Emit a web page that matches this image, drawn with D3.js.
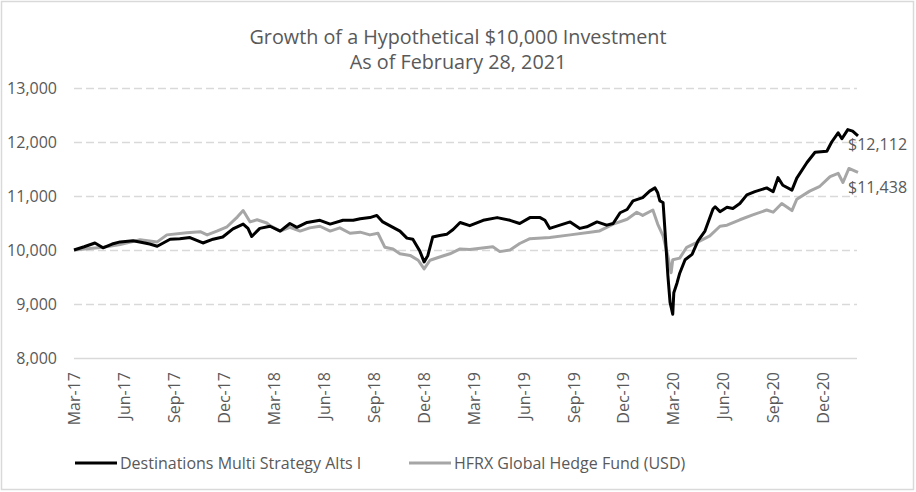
<!DOCTYPE html>
<html>
<head>
<meta charset="utf-8">
<script src="https://cdn.jsdelivr.net/npm/d3@7/dist/d3.min.js"></script>
<style>
  html, body { margin: 0; padding: 0; background: #fff; }
  svg { display: block; }
  text { font-family: "Open Sans", sans-serif; fill: #595959; }
</style>
</head>
<body>
<svg id="chart" width="916" height="492"></svg>
<script>
// ---------------- DATA ----------------
const titleLines = ["Growth of a Hypothetical $10,000 Investment", "As of February 28, 2021"];
const seriesNames = ["Destinations Multi Strategy Alts I", "HFRX Global Hedge Fund (USD)"];
const yTicks = [8000, 9000, 10000, 11000, 12000, 13000];
const tickDates = ["2017-03-01","2017-06-02","2017-09-03","2017-12-05","2018-03-08","2018-06-09",
  "2018-09-11","2018-12-12","2019-03-15","2019-06-16","2019-09-17","2019-12-19",
  "2020-03-21","2020-06-22","2020-09-23","2020-12-25"];
const tickLabels = ["Mar-17","Jun-17","Sep-17","Dec-17","Mar-18","Jun-18","Sep-18","Dec-18",
  "Mar-19","Jun-19","Sep-19","Dec-19","Mar-20","Jun-20","Sep-20","Dec-20"];
const endLabels = ["$12,112", "$11,438"];

const fundSeries = [
 ["2017-03-01",10000],["2017-03-20",10060],["2017-04-09",10130],["2017-04-24",10040],["2017-05-11",10110],
 ["2017-05-26",10150],["2017-06-19",10170],["2017-07-06",10140],["2017-07-20",10110],["2017-08-03",10070],
 ["2017-08-27",10200],["2017-09-14",10210],["2017-10-03",10230],["2017-10-27",10130],["2017-11-15",10200],
 ["2017-12-03",10240],["2017-12-22",10390],["2018-01-10",10480],["2018-01-19",10400],["2018-01-26",10250],
 ["2018-02-10",10400],["2018-03-01",10440],["2018-03-20",10350],["2018-04-07",10490],["2018-04-20",10420],
 ["2018-05-09",10510],["2018-06-02",10550],["2018-06-21",10480],["2018-07-15",10550],["2018-08-03",10550],
 ["2018-08-16",10580],["2018-09-03",10600],["2018-09-16",10640],["2018-09-27",10520],["2018-10-16",10420],
 ["2018-10-29",10350],["2018-11-11",10220],["2018-11-22",10200],["2018-12-05",9980],["2018-12-13",9780],
 ["2018-12-20",9900],["2018-12-29",10240],["2019-01-11",10270],["2019-01-24",10290],["2019-02-05",10380],
 ["2019-02-18",10510],["2019-03-08",10450],["2019-04-02",10550],["2019-04-28",10600],["2019-05-22",10550],
 ["2019-06-09",10490],["2019-06-28",10600],["2019-07-17",10600],["2019-07-26",10550],["2019-08-04",10400],
 ["2019-08-23",10460],["2019-09-11",10520],["2019-09-29",10400],["2019-10-12",10430],["2019-10-31",10520],
 ["2019-11-18",10460],["2019-11-30",10490],["2019-12-13",10690],["2019-12-26",10750],["2020-01-06",10910],
 ["2020-01-24",10970],["2020-02-06",11090],["2020-02-16",11150],["2020-02-21",11060],["2020-02-25",10910],
 ["2020-03-02",10880],["2020-03-05",10440],["2020-03-11",9520],["2020-03-15",9030],["2020-03-20",8810],
 ["2020-03-22",9210],["2020-03-28",9390],["2020-04-02",9570],["2020-04-12",9820],["2020-04-25",9920],
 ["2020-05-06",10170],["2020-05-19",10350],["2020-06-03",10760],["2020-06-07",10800],["2020-06-16",10710],
 ["2020-06-29",10790],["2020-07-10",10770],["2020-07-23",10860],["2020-08-05",11020],["2020-08-20",11080],
 ["2020-09-11",11150],["2020-09-23",11080],["2020-10-02",11340],["2020-10-11",11200],["2020-10-28",11110],
 ["2020-11-06",11330],["2020-11-25",11620],["2020-12-10",11810],["2021-01-01",11830],["2021-01-10",12000],
 ["2021-01-22",12170],["2021-01-29",12060],["2021-02-09",12230],["2021-02-18",12200],["2021-02-28",12112]
];

const indexSeries = [
 ["2017-03-01",10000],["2017-04-24",10050],["2017-05-26",10100],["2017-07-02",10190],["2017-08-03",10150],
 ["2017-08-21",10280],["2017-09-27",10320],["2017-10-22",10340],["2017-11-04",10280],["2017-11-22",10350],
 ["2017-12-11",10430],["2017-12-30",10610],["2018-01-10",10730],["2018-01-23",10520],["2018-02-05",10560],
 ["2018-02-23",10500],["2018-03-01",10450],["2018-03-20",10350],["2018-04-07",10420],["2018-04-26",10350],
 ["2018-05-14",10410],["2018-06-02",10440],["2018-06-21",10350],["2018-07-09",10410],["2018-07-28",10310],
 ["2018-08-16",10330],["2018-09-03",10280],["2018-09-18",10310],["2018-10-01",10050],["2018-10-16",10020],
 ["2018-10-29",9930],["2018-11-17",9900],["2018-12-02",9810],["2018-12-13",9650],["2018-12-24",9810],
 ["2019-01-11",9870],["2019-01-30",9930],["2019-02-18",10020],["2019-03-08",10010],["2019-04-20",10060],
 ["2019-05-03",9970],["2019-05-22",10000],["2019-06-09",10120],["2019-06-28",10210],["2019-08-04",10230],
 ["2019-09-11",10280],["2019-10-18",10330],["2019-11-04",10350],["2019-11-30",10480],["2019-12-26",10570],
 ["2020-01-13",10700],["2020-01-24",10640],["2020-02-12",10740],["2020-02-21",10480],["2020-03-02",10260],
 ["2020-03-11",9890],["2020-03-17",9580],["2020-03-20",9820],["2020-04-02",9850],["2020-04-15",10050],
 ["2020-05-10",10170],["2020-05-28",10260],["2020-06-16",10440],["2020-06-29",10460],["2020-07-23",10560],
 ["2020-08-16",10650],["2020-09-11",10740],["2020-09-23",10700],["2020-10-09",10860],["2020-10-28",10730],
 ["2020-11-06",10940],["2020-11-30",11090],["2020-12-19",11180],["2021-01-07",11360],["2021-01-22",11420],
 ["2021-01-31",11250],["2021-02-11",11510],["2021-02-28",11438]
];

// ---------------- CHART ----------------
const parse = d3.timeParse("%Y-%m-%d");
const svg = d3.select("#chart");
const W = 916, H = 492;
const mLeft = 74, mRight = 858, mTop = 88, mBottom = 358;

svg.append("rect").attr("x", 1.5).attr("y", 1.5).attr("width", W - 4).attr("height", H - 4)
  .attr("fill", "#fff").attr("stroke", "#d9d9d9").attr("stroke-width", 1.5);

const x = d3.scaleTime()
  .domain([parse("2017-03-01"), parse("2021-02-28")])
  .range([mLeft, mRight]);
const y = d3.scaleLinear().domain([8000, 13000]).range([mBottom, mTop]);

// title
svg.append("g").selectAll("text").data(titleLines).join("text")
  .attr("x", 458).attr("y", (d, i) => 44 + i * 25)
  .attr("text-anchor", "middle").style("font-size", "19.8px").text(d => d);

// gridlines
svg.append("g").selectAll("line").data(yTicks).join("line")
  .attr("x1", mLeft).attr("x2", mRight - 1)
  .attr("y1", d => Math.round(y(d)) + 0.5).attr("y2", d => Math.round(y(d)) + 0.5)
  .attr("stroke", "#d9d9d9").attr("stroke-width", 1.3)
  .attr("stroke-dasharray", d => d === 8000 ? null : "8,4");

// y axis labels
const yAxis = d3.axisLeft(y).tickValues(yTicks).tickSize(0).tickPadding(0)
  .tickFormat(d3.format(","));
const gy = svg.append("g").attr("transform", `translate(57,0)`).call(yAxis);
gy.select(".domain").remove();
gy.selectAll("text").style("font-size", "16px").style("font-family", "'Open Sans', sans-serif")
  .attr("fill", "#595959");

// x axis labels (rotated)
const xAxis = d3.axisBottom(x).tickValues(tickDates.map(parse)).tickSize(0)
  .tickFormat((d, i) => tickLabels[i]);
const gx = svg.append("g").attr("transform", `translate(0,${mBottom})`).call(xAxis);
gx.select(".domain").remove();
gx.selectAll("text")
  .style("font-size", "16px").style("font-family", "'Open Sans', sans-serif").attr("fill", "#595959")
  .attr("transform", "rotate(-90)")
  .attr("text-anchor", "end").attr("x", -14).attr("y", 0).attr("dy", "0.35em");

// lines
const line = d3.line().x(d => x(parse(d[0]))).y(d => y(d[1])).curve(d3.curveLinear);
svg.append("path").datum(indexSeries).attr("d", line)
  .attr("fill", "none").attr("stroke", "#a6a6a6").attr("stroke-width", 3).attr("stroke-linejoin", "round");
svg.append("path").datum(fundSeries).attr("d", line)
  .attr("fill", "none").attr("stroke", "#000").attr("stroke-width", 3).attr("stroke-linejoin", "round");

// end labels
const ends = [fundSeries[fundSeries.length - 1], indexSeries[indexSeries.length - 1]];
svg.append("g").selectAll("text").data(ends).join("text")
  .attr("x", d => x(parse(d[0])) - 10)
  .attr("y", (d, i) => y(d[1]) + (i === 0 ? 8 : 15) + 6)
  .style("font-size", "16px").text((d, i) => endLabels[i]);

// legend
const legendX = [75, 409];
const lg = svg.append("g").selectAll("g").data(seriesNames).join("g")
  .attr("transform", (d, i) => `translate(${legendX[i]},463)`);
lg.append("line").attr("x1", 0).attr("x2", 42).attr("y1", 0).attr("y2", 0)
  .attr("stroke", (d, i) => i === 0 ? "#000" : "#a6a6a6").attr("stroke-width", 3);
lg.append("text").attr("x", 45).attr("y", 0).attr("dy", "0.35em")
  .style("font-size", "16px").text(d => d);
</script>
</body>
</html>
